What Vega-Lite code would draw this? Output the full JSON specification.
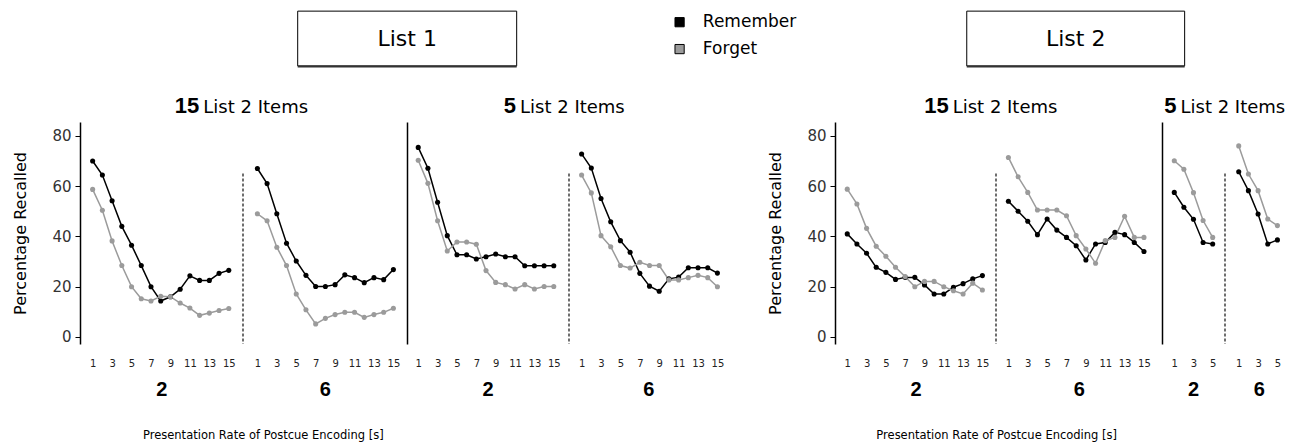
{
  "$schema": "https://vega.github.io/schema/vega-lite/v6.json",
  "padding": {"left": 12, "top": 10, "right": 5, "bottom": 2},
  "background": "white",
  "datasets": {
    "recall": [
      {"list":"List 1","items":15,"rate":2,"cue":"Remember","pos":1,"pct":70},
      {"list":"List 1","items":15,"rate":2,"cue":"Remember","pos":2,"pct":64.4},
      {"list":"List 1","items":15,"rate":2,"cue":"Remember","pos":3,"pct":54.2},
      {"list":"List 1","items":15,"rate":2,"cue":"Remember","pos":4,"pct":44},
      {"list":"List 1","items":15,"rate":2,"cue":"Remember","pos":5,"pct":36.5},
      {"list":"List 1","items":15,"rate":2,"cue":"Remember","pos":6,"pct":28.4},
      {"list":"List 1","items":15,"rate":2,"cue":"Remember","pos":7,"pct":20},
      {"list":"List 1","items":15,"rate":2,"cue":"Remember","pos":8,"pct":14.3},
      {"list":"List 1","items":15,"rate":2,"cue":"Remember","pos":9,"pct":16},
      {"list":"List 1","items":15,"rate":2,"cue":"Remember","pos":10,"pct":19},
      {"list":"List 1","items":15,"rate":2,"cue":"Remember","pos":11,"pct":24.3},
      {"list":"List 1","items":15,"rate":2,"cue":"Remember","pos":12,"pct":22.5},
      {"list":"List 1","items":15,"rate":2,"cue":"Remember","pos":13,"pct":22.5},
      {"list":"List 1","items":15,"rate":2,"cue":"Remember","pos":14,"pct":25.3},
      {"list":"List 1","items":15,"rate":2,"cue":"Remember","pos":15,"pct":26.5},
      {"list":"List 1","items":15,"rate":2,"cue":"Forget","pos":1,"pct":58.7},
      {"list":"List 1","items":15,"rate":2,"cue":"Forget","pos":2,"pct":50.4},
      {"list":"List 1","items":15,"rate":2,"cue":"Forget","pos":3,"pct":38.2},
      {"list":"List 1","items":15,"rate":2,"cue":"Forget","pos":4,"pct":28.4},
      {"list":"List 1","items":15,"rate":2,"cue":"Forget","pos":5,"pct":20},
      {"list":"List 1","items":15,"rate":2,"cue":"Forget","pos":6,"pct":15.2},
      {"list":"List 1","items":15,"rate":2,"cue":"Forget","pos":7,"pct":14.3},
      {"list":"List 1","items":15,"rate":2,"cue":"Forget","pos":8,"pct":16.2},
      {"list":"List 1","items":15,"rate":2,"cue":"Forget","pos":9,"pct":16},
      {"list":"List 1","items":15,"rate":2,"cue":"Forget","pos":10,"pct":13.5},
      {"list":"List 1","items":15,"rate":2,"cue":"Forget","pos":11,"pct":11.5},
      {"list":"List 1","items":15,"rate":2,"cue":"Forget","pos":12,"pct":8.6},
      {"list":"List 1","items":15,"rate":2,"cue":"Forget","pos":13,"pct":9.5},
      {"list":"List 1","items":15,"rate":2,"cue":"Forget","pos":14,"pct":10.5},
      {"list":"List 1","items":15,"rate":2,"cue":"Forget","pos":15,"pct":11.3},

      {"list":"List 1","items":15,"rate":6,"cue":"Remember","pos":1,"pct":67},
      {"list":"List 1","items":15,"rate":6,"cue":"Remember","pos":2,"pct":61},
      {"list":"List 1","items":15,"rate":6,"cue":"Remember","pos":3,"pct":49},
      {"list":"List 1","items":15,"rate":6,"cue":"Remember","pos":4,"pct":37.3},
      {"list":"List 1","items":15,"rate":6,"cue":"Remember","pos":5,"pct":30.2},
      {"list":"List 1","items":15,"rate":6,"cue":"Remember","pos":6,"pct":24.5},
      {"list":"List 1","items":15,"rate":6,"cue":"Remember","pos":7,"pct":20.1},
      {"list":"List 1","items":15,"rate":6,"cue":"Remember","pos":8,"pct":20.1},
      {"list":"List 1","items":15,"rate":6,"cue":"Remember","pos":9,"pct":20.8},
      {"list":"List 1","items":15,"rate":6,"cue":"Remember","pos":10,"pct":24.7},
      {"list":"List 1","items":15,"rate":6,"cue":"Remember","pos":11,"pct":23.6},
      {"list":"List 1","items":15,"rate":6,"cue":"Remember","pos":12,"pct":21.6},
      {"list":"List 1","items":15,"rate":6,"cue":"Remember","pos":13,"pct":23.6},
      {"list":"List 1","items":15,"rate":6,"cue":"Remember","pos":14,"pct":22.8},
      {"list":"List 1","items":15,"rate":6,"cue":"Remember","pos":15,"pct":26.8},
      {"list":"List 1","items":15,"rate":6,"cue":"Forget","pos":1,"pct":49},
      {"list":"List 1","items":15,"rate":6,"cue":"Forget","pos":2,"pct":46.2},
      {"list":"List 1","items":15,"rate":6,"cue":"Forget","pos":3,"pct":35.7},
      {"list":"List 1","items":15,"rate":6,"cue":"Forget","pos":4,"pct":28.4},
      {"list":"List 1","items":15,"rate":6,"cue":"Forget","pos":5,"pct":17.1},
      {"list":"List 1","items":15,"rate":6,"cue":"Forget","pos":6,"pct":10.8},
      {"list":"List 1","items":15,"rate":6,"cue":"Forget","pos":7,"pct":5.2},
      {"list":"List 1","items":15,"rate":6,"cue":"Forget","pos":8,"pct":7.4},
      {"list":"List 1","items":15,"rate":6,"cue":"Forget","pos":9,"pct":8.9},
      {"list":"List 1","items":15,"rate":6,"cue":"Forget","pos":10,"pct":9.8},
      {"list":"List 1","items":15,"rate":6,"cue":"Forget","pos":11,"pct":9.8},
      {"list":"List 1","items":15,"rate":6,"cue":"Forget","pos":12,"pct":7.8},
      {"list":"List 1","items":15,"rate":6,"cue":"Forget","pos":13,"pct":8.9},
      {"list":"List 1","items":15,"rate":6,"cue":"Forget","pos":14,"pct":9.8},
      {"list":"List 1","items":15,"rate":6,"cue":"Forget","pos":15,"pct":11.4},

      {"list":"List 1","items":5,"rate":2,"cue":"Remember","pos":1,"pct":75.4},
      {"list":"List 1","items":5,"rate":2,"cue":"Remember","pos":2,"pct":67.1},
      {"list":"List 1","items":5,"rate":2,"cue":"Remember","pos":3,"pct":53.6},
      {"list":"List 1","items":5,"rate":2,"cue":"Remember","pos":4,"pct":40.3},
      {"list":"List 1","items":5,"rate":2,"cue":"Remember","pos":5,"pct":32.7},
      {"list":"List 1","items":5,"rate":2,"cue":"Remember","pos":6,"pct":32.7},
      {"list":"List 1","items":5,"rate":2,"cue":"Remember","pos":7,"pct":31},
      {"list":"List 1","items":5,"rate":2,"cue":"Remember","pos":8,"pct":31.9},
      {"list":"List 1","items":5,"rate":2,"cue":"Remember","pos":9,"pct":33},
      {"list":"List 1","items":5,"rate":2,"cue":"Remember","pos":10,"pct":31.9},
      {"list":"List 1","items":5,"rate":2,"cue":"Remember","pos":11,"pct":31.9},
      {"list":"List 1","items":5,"rate":2,"cue":"Remember","pos":12,"pct":28.3},
      {"list":"List 1","items":5,"rate":2,"cue":"Remember","pos":13,"pct":28.3},
      {"list":"List 1","items":5,"rate":2,"cue":"Remember","pos":14,"pct":28.3},
      {"list":"List 1","items":5,"rate":2,"cue":"Remember","pos":15,"pct":28.3},
      {"list":"List 1","items":5,"rate":2,"cue":"Forget","pos":1,"pct":70.3},
      {"list":"List 1","items":5,"rate":2,"cue":"Forget","pos":2,"pct":61.1},
      {"list":"List 1","items":5,"rate":2,"cue":"Forget","pos":3,"pct":46.2},
      {"list":"List 1","items":5,"rate":2,"cue":"Forget","pos":4,"pct":34.2},
      {"list":"List 1","items":5,"rate":2,"cue":"Forget","pos":5,"pct":37.8},
      {"list":"List 1","items":5,"rate":2,"cue":"Forget","pos":6,"pct":37.8},
      {"list":"List 1","items":5,"rate":2,"cue":"Forget","pos":7,"pct":36.9},
      {"list":"List 1","items":5,"rate":2,"cue":"Forget","pos":8,"pct":26.4},
      {"list":"List 1","items":5,"rate":2,"cue":"Forget","pos":9,"pct":21.7},
      {"list":"List 1","items":5,"rate":2,"cue":"Forget","pos":10,"pct":20.8},
      {"list":"List 1","items":5,"rate":2,"cue":"Forget","pos":11,"pct":19.1},
      {"list":"List 1","items":5,"rate":2,"cue":"Forget","pos":12,"pct":20.8},
      {"list":"List 1","items":5,"rate":2,"cue":"Forget","pos":13,"pct":19.1},
      {"list":"List 1","items":5,"rate":2,"cue":"Forget","pos":14,"pct":20.1},
      {"list":"List 1","items":5,"rate":2,"cue":"Forget","pos":15,"pct":20.1},

      {"list":"List 1","items":5,"rate":6,"cue":"Remember","pos":1,"pct":72.8},
      {"list":"List 1","items":5,"rate":6,"cue":"Remember","pos":2,"pct":67.2},
      {"list":"List 1","items":5,"rate":6,"cue":"Remember","pos":3,"pct":55.1},
      {"list":"List 1","items":5,"rate":6,"cue":"Remember","pos":4,"pct":45.8},
      {"list":"List 1","items":5,"rate":6,"cue":"Remember","pos":5,"pct":38.3},
      {"list":"List 1","items":5,"rate":6,"cue":"Remember","pos":6,"pct":33.7},
      {"list":"List 1","items":5,"rate":6,"cue":"Remember","pos":7,"pct":25.3},
      {"list":"List 1","items":5,"rate":6,"cue":"Remember","pos":8,"pct":20.2},
      {"list":"List 1","items":5,"rate":6,"cue":"Remember","pos":9,"pct":18.2},
      {"list":"List 1","items":5,"rate":6,"cue":"Remember","pos":10,"pct":23.1},
      {"list":"List 1","items":5,"rate":6,"cue":"Remember","pos":11,"pct":23.8},
      {"list":"List 1","items":5,"rate":6,"cue":"Remember","pos":12,"pct":27.5},
      {"list":"List 1","items":5,"rate":6,"cue":"Remember","pos":13,"pct":27.5},
      {"list":"List 1","items":5,"rate":6,"cue":"Remember","pos":14,"pct":27.5},
      {"list":"List 1","items":5,"rate":6,"cue":"Remember","pos":15,"pct":25.4},
      {"list":"List 1","items":5,"rate":6,"cue":"Forget","pos":1,"pct":64.4},
      {"list":"List 1","items":5,"rate":6,"cue":"Forget","pos":2,"pct":57.3},
      {"list":"List 1","items":5,"rate":6,"cue":"Forget","pos":3,"pct":40.3},
      {"list":"List 1","items":5,"rate":6,"cue":"Forget","pos":4,"pct":35.9},
      {"list":"List 1","items":5,"rate":6,"cue":"Forget","pos":5,"pct":28.4},
      {"list":"List 1","items":5,"rate":6,"cue":"Forget","pos":6,"pct":27.4},
      {"list":"List 1","items":5,"rate":6,"cue":"Forget","pos":7,"pct":29.7},
      {"list":"List 1","items":5,"rate":6,"cue":"Forget","pos":8,"pct":28.4},
      {"list":"List 1","items":5,"rate":6,"cue":"Forget","pos":9,"pct":28.4},
      {"list":"List 1","items":5,"rate":6,"cue":"Forget","pos":10,"pct":22.7},
      {"list":"List 1","items":5,"rate":6,"cue":"Forget","pos":11,"pct":22.7},
      {"list":"List 1","items":5,"rate":6,"cue":"Forget","pos":12,"pct":23.6},
      {"list":"List 1","items":5,"rate":6,"cue":"Forget","pos":13,"pct":24.5},
      {"list":"List 1","items":5,"rate":6,"cue":"Forget","pos":14,"pct":23.6},
      {"list":"List 1","items":5,"rate":6,"cue":"Forget","pos":15,"pct":20},

      {"list":"List 2","items":15,"rate":2,"cue":"Remember","pos":1,"pct":41},
      {"list":"List 2","items":15,"rate":2,"cue":"Remember","pos":2,"pct":37},
      {"list":"List 2","items":15,"rate":2,"cue":"Remember","pos":3,"pct":33.3},
      {"list":"List 2","items":15,"rate":2,"cue":"Remember","pos":4,"pct":27.7},
      {"list":"List 2","items":15,"rate":2,"cue":"Remember","pos":5,"pct":25.7},
      {"list":"List 2","items":15,"rate":2,"cue":"Remember","pos":6,"pct":22.9},
      {"list":"List 2","items":15,"rate":2,"cue":"Remember","pos":7,"pct":23.7},
      {"list":"List 2","items":15,"rate":2,"cue":"Remember","pos":8,"pct":23.7},
      {"list":"List 2","items":15,"rate":2,"cue":"Remember","pos":9,"pct":20.7},
      {"list":"List 2","items":15,"rate":2,"cue":"Remember","pos":10,"pct":17.1},
      {"list":"List 2","items":15,"rate":2,"cue":"Remember","pos":11,"pct":17.1},
      {"list":"List 2","items":15,"rate":2,"cue":"Remember","pos":12,"pct":19.8},
      {"list":"List 2","items":15,"rate":2,"cue":"Remember","pos":13,"pct":21.2},
      {"list":"List 2","items":15,"rate":2,"cue":"Remember","pos":14,"pct":23.1},
      {"list":"List 2","items":15,"rate":2,"cue":"Remember","pos":15,"pct":24.4},
      {"list":"List 2","items":15,"rate":2,"cue":"Forget","pos":1,"pct":58.8},
      {"list":"List 2","items":15,"rate":2,"cue":"Forget","pos":2,"pct":52.9},
      {"list":"List 2","items":15,"rate":2,"cue":"Forget","pos":3,"pct":43.2},
      {"list":"List 2","items":15,"rate":2,"cue":"Forget","pos":4,"pct":36.1},
      {"list":"List 2","items":15,"rate":2,"cue":"Forget","pos":5,"pct":32.1},
      {"list":"List 2","items":15,"rate":2,"cue":"Forget","pos":6,"pct":27.7},
      {"list":"List 2","items":15,"rate":2,"cue":"Forget","pos":7,"pct":24},
      {"list":"List 2","items":15,"rate":2,"cue":"Forget","pos":8,"pct":20},
      {"list":"List 2","items":15,"rate":2,"cue":"Forget","pos":9,"pct":22.1},
      {"list":"List 2","items":15,"rate":2,"cue":"Forget","pos":10,"pct":22.1},
      {"list":"List 2","items":15,"rate":2,"cue":"Forget","pos":11,"pct":20},
      {"list":"List 2","items":15,"rate":2,"cue":"Forget","pos":12,"pct":18.4},
      {"list":"List 2","items":15,"rate":2,"cue":"Forget","pos":13,"pct":17.1},
      {"list":"List 2","items":15,"rate":2,"cue":"Forget","pos":14,"pct":21.4},
      {"list":"List 2","items":15,"rate":2,"cue":"Forget","pos":15,"pct":18.7},

      {"list":"List 2","items":15,"rate":6,"cue":"Remember","pos":1,"pct":54},
      {"list":"List 2","items":15,"rate":6,"cue":"Remember","pos":2,"pct":50},
      {"list":"List 2","items":15,"rate":6,"cue":"Remember","pos":3,"pct":46},
      {"list":"List 2","items":15,"rate":6,"cue":"Remember","pos":4,"pct":40.7},
      {"list":"List 2","items":15,"rate":6,"cue":"Remember","pos":5,"pct":46.9},
      {"list":"List 2","items":15,"rate":6,"cue":"Remember","pos":6,"pct":42.5},
      {"list":"List 2","items":15,"rate":6,"cue":"Remember","pos":7,"pct":39.6},
      {"list":"List 2","items":15,"rate":6,"cue":"Remember","pos":8,"pct":36.3},
      {"list":"List 2","items":15,"rate":6,"cue":"Remember","pos":9,"pct":30.6},
      {"list":"List 2","items":15,"rate":6,"cue":"Remember","pos":10,"pct":37},
      {"list":"List 2","items":15,"rate":6,"cue":"Remember","pos":11,"pct":37.6},
      {"list":"List 2","items":15,"rate":6,"cue":"Remember","pos":12,"pct":41.6},
      {"list":"List 2","items":15,"rate":6,"cue":"Remember","pos":13,"pct":40.7},
      {"list":"List 2","items":15,"rate":6,"cue":"Remember","pos":14,"pct":37.6},
      {"list":"List 2","items":15,"rate":6,"cue":"Remember","pos":15,"pct":34},
      {"list":"List 2","items":15,"rate":6,"cue":"Forget","pos":1,"pct":71.4},
      {"list":"List 2","items":15,"rate":6,"cue":"Forget","pos":2,"pct":63.7},
      {"list":"List 2","items":15,"rate":6,"cue":"Forget","pos":3,"pct":57.5},
      {"list":"List 2","items":15,"rate":6,"cue":"Forget","pos":4,"pct":50.5},
      {"list":"List 2","items":15,"rate":6,"cue":"Forget","pos":5,"pct":50.5},
      {"list":"List 2","items":15,"rate":6,"cue":"Forget","pos":6,"pct":50.5},
      {"list":"List 2","items":15,"rate":6,"cue":"Forget","pos":7,"pct":48.2},
      {"list":"List 2","items":15,"rate":6,"cue":"Forget","pos":8,"pct":40.3},
      {"list":"List 2","items":15,"rate":6,"cue":"Forget","pos":9,"pct":35},
      {"list":"List 2","items":15,"rate":6,"cue":"Forget","pos":10,"pct":29.3},
      {"list":"List 2","items":15,"rate":6,"cue":"Forget","pos":11,"pct":38.3},
      {"list":"List 2","items":15,"rate":6,"cue":"Forget","pos":12,"pct":39.6},
      {"list":"List 2","items":15,"rate":6,"cue":"Forget","pos":13,"pct":48},
      {"list":"List 2","items":15,"rate":6,"cue":"Forget","pos":14,"pct":39.6},
      {"list":"List 2","items":15,"rate":6,"cue":"Forget","pos":15,"pct":39.6},

      {"list":"List 2","items":5,"rate":2,"cue":"Remember","pos":1,"pct":57.5},
      {"list":"List 2","items":5,"rate":2,"cue":"Remember","pos":2,"pct":51.6},
      {"list":"List 2","items":5,"rate":2,"cue":"Remember","pos":3,"pct":46.8},
      {"list":"List 2","items":5,"rate":2,"cue":"Remember","pos":4,"pct":37.6},
      {"list":"List 2","items":5,"rate":2,"cue":"Remember","pos":5,"pct":37},
      {"list":"List 2","items":5,"rate":2,"cue":"Forget","pos":1,"pct":70.1},
      {"list":"List 2","items":5,"rate":2,"cue":"Forget","pos":2,"pct":66.7},
      {"list":"List 2","items":5,"rate":2,"cue":"Forget","pos":3,"pct":57.4},
      {"list":"List 2","items":5,"rate":2,"cue":"Forget","pos":4,"pct":46.3},
      {"list":"List 2","items":5,"rate":2,"cue":"Forget","pos":5,"pct":39.6},

      {"list":"List 2","items":5,"rate":6,"cue":"Remember","pos":1,"pct":65.7},
      {"list":"List 2","items":5,"rate":6,"cue":"Remember","pos":2,"pct":58.2},
      {"list":"List 2","items":5,"rate":6,"cue":"Remember","pos":3,"pct":48.9},
      {"list":"List 2","items":5,"rate":6,"cue":"Remember","pos":4,"pct":37},
      {"list":"List 2","items":5,"rate":6,"cue":"Remember","pos":5,"pct":38.6},
      {"list":"List 2","items":5,"rate":6,"cue":"Forget","pos":1,"pct":76},
      {"list":"List 2","items":5,"rate":6,"cue":"Forget","pos":2,"pct":64.8},
      {"list":"List 2","items":5,"rate":6,"cue":"Forget","pos":3,"pct":58.2},
      {"list":"List 2","items":5,"rate":6,"cue":"Forget","pos":4,"pct":46.9},
      {"list":"List 2","items":5,"rate":6,"cue":"Forget","pos":5,"pct":44.3}
    ]
  },
  "bounds": "flush",
  "spacing": 0,
  "hconcat": [
    {
      "width": 162.6, "height": 222,
      "layer": [
        {"data": {"name": "recall"}, "transform": [{"filter": "datum.list == 'List 1' && datum.items == 15 && datum.rate == 2"}],
         "mark": {"type": "line", "strokeWidth": 1.5},
         "encoding": {
           "x": {"field": "pos", "type": "quantitative", "scale": {"domain": [-0.3, 16.42], "nice": false, "zero": false}, "axis": {"values": [1,3,5,7,9,11,13,15], "tickCount": 30, "format": "d", "labelOverlap": false, "title": "2"}},
           "y": {"field": "pct", "type": "quantitative", "scale": {"domain": [-2.8, 85.5], "nice": false, "zero": false}, "axis": {"values": [0,20,40,60,80], "tickCount": 30, "format": "d", "title": "Percentage  Recalled"}},
           "stroke": {"field": "cue", "type": "nominal", "scale": {"domain": ["Remember","Forget"], "range": ["#000000","#9b9b9b"]}, "legend": null}}},
        {"data": {"name": "recall"}, "transform": [{"filter": "datum.list == 'List 1' && datum.items == 15 && datum.rate == 2"}],
         "mark": {"type": "point", "filled": true, "size": 26, "opacity": 1},
         "encoding": {
           "x": {"field": "pos", "type": "quantitative"},
           "y": {"field": "pct", "type": "quantitative"},
           "color": {"field": "cue", "type": "nominal", "scale": {"domain": ["Remember","Forget"], "range": ["#000000","#9b9b9b"]}, "legend": null}}},
        {"data": {"values": [{}]}, "mark": {"type": "text", "text": "15", "align": "right", "baseline": "alphabetic", "fontSize": 22, "fontWeight": "bold", "font": "Liberation Sans"},
         "encoding": {"x": {"datum": 11.97}, "y": {"datum": 89.1}}},
        {"data": {"values": [{}]}, "mark": {"type": "text", "text": "List 2 Items", "align": "left", "baseline": "alphabetic", "fontSize": 18, "dx": 4},
         "encoding": {"x": {"datum": 11.97}, "y": {"datum": 89.1}}},
        {"data": {"values": [{}]}, "mark": {"type": "text", "text": "Presentation Rate of Postcue Encoding [s]", "align": "center", "baseline": "middle", "fontSize": 11.5},
         "encoding": {"x": {"datum": 18.55}, "y": {"datum": -39.4}}}
      ]
    },
    {
      "width": 163.7, "height": 222,
      "layer": [
        {"data": {"name": "recall"}, "transform": [{"filter": "datum.list == 'List 1' && datum.items == 15 && datum.rate == 6"}],
         "mark": {"type": "line", "strokeWidth": 1.5},
         "encoding": {
           "x": {"field": "pos", "type": "quantitative", "scale": {"domain": [-0.48, 16.37], "nice": false, "zero": false}, "axis": {"values": [1,3,5,7,9,11,13,15], "tickCount": 30, "format": "d", "labelOverlap": false, "title": "6"}},
           "y": {"field": "pct", "type": "quantitative", "scale": {"domain": [-2.8, 85.5], "nice": false, "zero": false}, "axis": null},
           "stroke": {"field": "cue", "type": "nominal", "legend": null}}},
        {"data": {"name": "recall"}, "transform": [{"filter": "datum.list == 'List 1' && datum.items == 15 && datum.rate == 6"}],
         "mark": {"type": "point", "filled": true, "size": 26, "opacity": 1},
         "encoding": {"x": {"field": "pos", "type": "quantitative"}, "y": {"field": "pct", "type": "quantitative"}, "color": {"field": "cue", "type": "nominal", "legend": null}}},
        {"data": {"values": [{}]}, "mark": {"type": "rule", "strokeDash": [3, 2], "color": "#222", "strokeWidth": 1.3},
         "encoding": {"x": {"datum": -0.48}, "y": {"datum": 65}, "y2": {"datum": -2.8}}},
        {"data": {"values": [{}]}, "mark": {"type": "rect", "fill": "white", "stroke": "#000", "strokeWidth": 1},
         "encoding": {"x": {"datum": 5.15}, "x2": {"datum": 27.69}, "y": {"datum": 129.6}, "y2": {"datum": 107.8}}},
        {"data": {"values": [{}]}, "mark": {"type": "rule", "color": "#333", "strokeWidth": 2},
         "encoding": {"x": {"datum": 5.15}, "x2": {"datum": 27.69}, "y": {"datum": 107.6}}},
        {"data": {"values": [{}]}, "mark": {"type": "text", "text": "List 1", "align": "center", "baseline": "middle", "fontSize": 22},
         "encoding": {"x": {"datum": 16.42}, "y": {"datum": 118.7}}}
      ]
    },
    {
      "width": 161.3, "height": 222,
      "layer": [
        {"data": {"name": "recall"}, "transform": [{"filter": "datum.list == 'List 1' && datum.items == 5 && datum.rate == 2"}],
         "mark": {"type": "line", "strokeWidth": 1.5},
         "encoding": {
           "x": {"field": "pos", "type": "quantitative", "scale": {"domain": [-0.16, 16.5], "nice": false, "zero": false}, "axis": {"values": [1,3,5,7,9,11,13,15], "tickCount": 30, "format": "d", "labelOverlap": false, "title": "2"}},
           "y": {"field": "pct", "type": "quantitative", "scale": {"domain": [-2.8, 85.5], "nice": false, "zero": false}, "axis": {"labels": false, "ticks": false, "title": null}},
           "stroke": {"field": "cue", "type": "nominal", "legend": null}}},
        {"data": {"name": "recall"}, "transform": [{"filter": "datum.list == 'List 1' && datum.items == 5 && datum.rate == 2"}],
         "mark": {"type": "point", "filled": true, "size": 26, "opacity": 1},
         "encoding": {"x": {"field": "pos", "type": "quantitative"}, "y": {"field": "pct", "type": "quantitative"}, "color": {"field": "cue", "type": "nominal", "legend": null}}},
        {"data": {"values": [{}]}, "mark": {"type": "text", "text": "5", "align": "right", "baseline": "alphabetic", "fontSize": 22, "fontWeight": "bold", "font": "Liberation Sans"},
         "encoding": {"x": {"datum": 11.1}, "y": {"datum": 89.1}}},
        {"data": {"values": [{}]}, "mark": {"type": "text", "text": "List 2 Items", "align": "left", "baseline": "alphabetic", "fontSize": 18, "dx": 4},
         "encoding": {"x": {"datum": 11.1}, "y": {"datum": 89.1}}}
      ]
    },
    {
      "width": 158.7, "height": 222,
      "layer": [
        {"data": {"name": "recall"}, "transform": [{"filter": "datum.list == 'List 1' && datum.items == 5 && datum.rate == 6"}],
         "mark": {"type": "line", "strokeWidth": 1.5},
         "encoding": {
           "x": {"field": "pos", "type": "quantitative", "scale": {"domain": [-0.3, 16.06], "nice": false, "zero": false}, "axis": {"values": [1,3,5,7,9,11,13,15], "tickCount": 30, "format": "d", "labelOverlap": false, "title": "6"}},
           "y": {"field": "pct", "type": "quantitative", "scale": {"domain": [-2.8, 85.5], "nice": false, "zero": false}, "axis": null},
           "stroke": {"field": "cue", "type": "nominal", "legend": null}}},
        {"data": {"name": "recall"}, "transform": [{"filter": "datum.list == 'List 1' && datum.items == 5 && datum.rate == 6"}],
         "mark": {"type": "point", "filled": true, "size": 26, "opacity": 1},
         "encoding": {"x": {"field": "pos", "type": "quantitative"}, "y": {"field": "pct", "type": "quantitative"}, "color": {"field": "cue", "type": "nominal", "legend": null}}},
        {"data": {"values": [{}]}, "mark": {"type": "rule", "strokeDash": [3, 2], "color": "#222", "strokeWidth": 1.3},
         "encoding": {"x": {"datum": -0.3}, "y": {"datum": 65}, "y2": {"datum": -2.8}}},
        {"data": {"values": [{}]}, "mark": {"type": "square", "size": 85, "stroke": "#000", "strokeWidth": 1, "opacity": 1},
         "encoding": {"x": {"datum": 11.1}, "y": {"datum": 125.2}, "color": {"datum": "Remember", "legend": null}}},
        {"data": {"values": [{}]}, "mark": {"type": "square", "size": 85, "stroke": "#000", "strokeWidth": 1, "opacity": 1},
         "encoding": {"x": {"datum": 11.1}, "y": {"datum": 114.5}, "color": {"datum": "Forget", "legend": null}}},
        {"data": {"values": [{}]}, "mark": {"type": "text", "text": "Remember", "align": "left", "baseline": "middle", "fontSize": 17},
         "encoding": {"x": {"datum": 13.5}, "y": {"datum": 125.2}}},
        {"data": {"values": [{}]}, "mark": {"type": "text", "text": "Forget", "align": "left", "baseline": "middle", "fontSize": 17},
         "encoding": {"x": {"datum": 13.5}, "y": {"datum": 114.5}}}
      ]
    },
    {
      "width": 106.3, "height": 222,
      "data": {"values": [{}]},
      "mark": {"type": "text", "text": ""},
      "encoding": {}
    },
    {
      "width": 161, "height": 222,
      "layer": [
        {"data": {"name": "recall"}, "transform": [{"filter": "datum.list == 'List 2' && datum.items == 15 && datum.rate == 2"}],
         "mark": {"type": "line", "strokeWidth": 1.5},
         "encoding": {
           "x": {"field": "pos", "type": "quantitative", "scale": {"domain": [-0.27, 16.41], "nice": false, "zero": false}, "axis": {"values": [1,3,5,7,9,11,13,15], "tickCount": 30, "format": "d", "labelOverlap": false, "title": "2"}},
           "y": {"field": "pct", "type": "quantitative", "scale": {"domain": [-2.8, 85.5], "nice": false, "zero": false}, "axis": {"values": [0,20,40,60,80], "tickCount": 30, "format": "d", "title": "Percentage  Recalled"}},
           "stroke": {"field": "cue", "type": "nominal", "legend": null}}},
        {"data": {"name": "recall"}, "transform": [{"filter": "datum.list == 'List 2' && datum.items == 15 && datum.rate == 2"}],
         "mark": {"type": "point", "filled": true, "size": 26, "opacity": 1},
         "encoding": {"x": {"field": "pos", "type": "quantitative"}, "y": {"field": "pct", "type": "quantitative"}, "color": {"field": "cue", "type": "nominal", "legend": null}}},
        {"data": {"values": [{}]}, "mark": {"type": "text", "text": "15", "align": "right", "baseline": "alphabetic", "fontSize": 22, "fontWeight": "bold", "font": "Liberation Sans"},
         "encoding": {"x": {"datum": 11.51}, "y": {"datum": 89.1}}},
        {"data": {"values": [{}]}, "mark": {"type": "text", "text": "List 2 Items", "align": "left", "baseline": "alphabetic", "fontSize": 18, "dx": 4},
         "encoding": {"x": {"datum": 11.51}, "y": {"datum": 89.1}}},
        {"data": {"values": [{}]}, "mark": {"type": "text", "text": "Presentation Rate of Postcue Encoding [s]", "align": "center", "baseline": "middle", "fontSize": 11.5},
         "encoding": {"x": {"datum": 16.48}, "y": {"datum": -39.4}}}
      ]
    },
    {
      "width": 165.7, "height": 222,
      "layer": [
        {"data": {"name": "recall"}, "transform": [{"filter": "datum.list == 'List 2' && datum.items == 15 && datum.rate == 6"}],
         "mark": {"type": "line", "strokeWidth": 1.5},
         "encoding": {
           "x": {"field": "pos", "type": "quantitative", "scale": {"domain": [-0.28, 16.83], "nice": false, "zero": false}, "axis": {"values": [1,3,5,7,9,11,13,15], "tickCount": 30, "format": "d", "labelOverlap": false, "title": "6"}},
           "y": {"field": "pct", "type": "quantitative", "scale": {"domain": [-2.8, 85.5], "nice": false, "zero": false}, "axis": null},
           "stroke": {"field": "cue", "type": "nominal", "legend": null}}},
        {"data": {"name": "recall"}, "transform": [{"filter": "datum.list == 'List 2' && datum.items == 15 && datum.rate == 6"}],
         "mark": {"type": "point", "filled": true, "size": 26, "opacity": 1},
         "encoding": {"x": {"field": "pos", "type": "quantitative"}, "y": {"field": "pct", "type": "quantitative"}, "color": {"field": "cue", "type": "nominal", "legend": null}}},
        {"data": {"values": [{}]}, "mark": {"type": "rule", "strokeDash": [3, 2], "color": "#222", "strokeWidth": 1.3},
         "encoding": {"x": {"datum": -0.28}, "y": {"datum": 65}, "y2": {"datum": -2.8}}},
        {"data": {"values": [{}]}, "mark": {"type": "rect", "fill": "white", "stroke": "#000", "strokeWidth": 1},
         "encoding": {"x": {"datum": -3.3}, "x2": {"datum": 19.2}, "y": {"datum": 129.6}, "y2": {"datum": 107.8}}},
        {"data": {"values": [{}]}, "mark": {"type": "rule", "color": "#333", "strokeWidth": 2},
         "encoding": {"x": {"datum": -3.3}, "x2": {"datum": 19.2}, "y": {"datum": 107.6}}},
        {"data": {"values": [{}]}, "mark": {"type": "text", "text": "List 2", "align": "center", "baseline": "middle", "fontSize": 22},
         "encoding": {"x": {"datum": 7.95}, "y": {"datum": 118.7}}}
      ]
    },
    {
      "width": 62.3, "height": 222,
      "layer": [
        {"data": {"name": "recall"}, "transform": [{"filter": "datum.list == 'List 2' && datum.items == 5 && datum.rate == 2"}],
         "mark": {"type": "line", "strokeWidth": 1.5},
         "encoding": {
           "x": {"field": "pos", "type": "quantitative", "scale": {"domain": [-0.28, 6.21], "nice": false, "zero": false}, "axis": {"values": [1,3,5], "tickCount": 30, "format": "d", "labelOverlap": false, "title": "2"}},
           "y": {"field": "pct", "type": "quantitative", "scale": {"domain": [-2.8, 85.5], "nice": false, "zero": false}, "axis": {"labels": false, "ticks": false, "title": null}},
           "stroke": {"field": "cue", "type": "nominal", "legend": null}}},
        {"data": {"name": "recall"}, "transform": [{"filter": "datum.list == 'List 2' && datum.items == 5 && datum.rate == 2"}],
         "mark": {"type": "point", "filled": true, "size": 26, "opacity": 1},
         "encoding": {"x": {"field": "pos", "type": "quantitative"}, "y": {"field": "pct", "type": "quantitative"}, "color": {"field": "cue", "type": "nominal", "legend": null}}},
        {"data": {"values": [{}]}, "mark": {"type": "text", "text": "5", "align": "right", "baseline": "alphabetic", "fontSize": 22, "fontWeight": "bold", "font": "Liberation Sans"},
         "encoding": {"x": {"datum": 1.23}, "y": {"datum": 89.1}}},
        {"data": {"values": [{}]}, "mark": {"type": "text", "text": "List 2 Items", "align": "left", "baseline": "alphabetic", "fontSize": 18, "dx": 4},
         "encoding": {"x": {"datum": 1.23}, "y": {"datum": 89.1}}}
      ]
    },
    {
      "width": 67.7, "height": 222,
      "layer": [
        {"data": {"name": "recall"}, "transform": [{"filter": "datum.list == 'List 2' && datum.items == 5 && datum.rate == 6"}],
         "mark": {"type": "line", "strokeWidth": 1.5},
         "encoding": {
           "x": {"field": "pos", "type": "quantitative", "scale": {"domain": [-0.42, 6.58], "nice": false, "zero": false}, "axis": {"values": [1,3,5], "tickCount": 30, "format": "d", "labelOverlap": false, "title": "6"}},
           "y": {"field": "pct", "type": "quantitative", "scale": {"domain": [-2.8, 85.5], "nice": false, "zero": false}, "axis": null},
           "stroke": {"field": "cue", "type": "nominal", "legend": null}}},
        {"data": {"name": "recall"}, "transform": [{"filter": "datum.list == 'List 2' && datum.items == 5 && datum.rate == 6"}],
         "mark": {"type": "point", "filled": true, "size": 26, "opacity": 1},
         "encoding": {"x": {"field": "pos", "type": "quantitative"}, "y": {"field": "pct", "type": "quantitative"}, "color": {"field": "cue", "type": "nominal", "legend": null}}},
        {"data": {"values": [{}]}, "mark": {"type": "rule", "strokeDash": [3, 2], "color": "#222", "strokeWidth": 1.3},
         "encoding": {"x": {"datum": -0.42}, "y": {"datum": 65}, "y2": {"datum": -2.8}}}
      ]
    }
  ],
  "config": {
    "font": "DejaVu Sans",
    "view": {"stroke": null},
    "title": {"font": "DejaVu Sans", "color": "#000"},
    "axisX": {"ticks": false, "domain": false, "grid": false, "labelFontSize": 10, "labelPadding": 14, "labelColor": "#222", "labelFlush": false, "labelOverlap": false, "titleFontSize": 20, "titleFontWeight": "bold", "titlePadding": 11, "titleColor": "#000", "titleFont": "Liberation Sans"},
    "axisY": {"grid": false, "domainColor": "#000", "domainWidth": 1.5, "tickSize": 5, "tickColor": "#000", "labelFontSize": 15, "labelPadding": 4, "labelColor": "#333", "titleFontSize": 16, "titleFontWeight": "normal", "titlePadding": 23, "titleColor": "#000"}
  }
}
